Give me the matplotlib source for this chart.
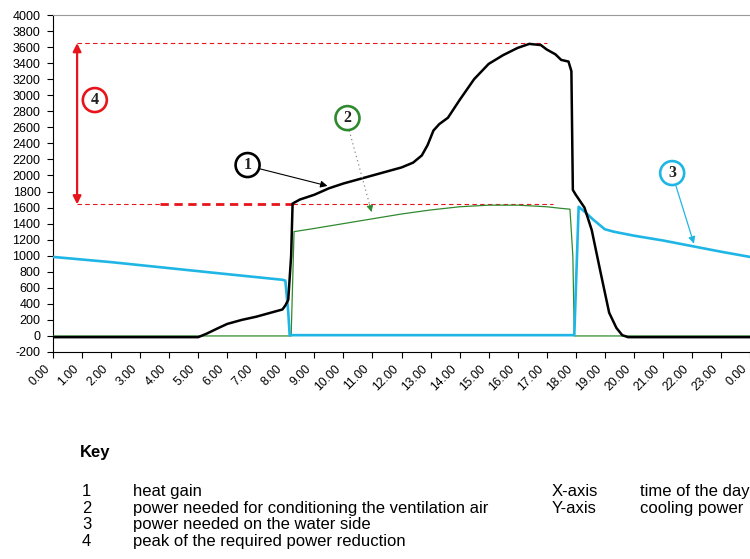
import matplotlib
matplotlib.use("Agg")
import matplotlib.pyplot as plt
import matplotlib.transforms as mtransforms

plt.rcParams['font.family'] = ['Liberation Sans', 'DejaVu Sans']

# ---- data ----
x_tick_labels = [f"{h}.00" for h in range(24)] + ["0.00"]
y_ticks = list(range(-200, 4001, 200))

heat_x = [0, 5.0, 5.3, 5.7, 6.0, 6.5, 7.0, 7.5, 7.9, 8.0, 8.1, 8.2, 8.25, 8.5, 9.0, 9.5, 10.0,
          10.5, 11.0, 11.5, 12.0, 12.4, 12.7, 12.9, 13.1, 13.3, 13.6, 14.0, 14.5, 15.0,
          15.5, 16.0, 16.4, 16.8, 17.0, 17.3, 17.5, 17.75, 17.85, 17.9, 18.0, 18.3,
          18.55, 18.85, 19.15, 19.4, 19.6, 19.8, 24.0]
heat_y = [-15, -15, 30, 100, 150, 200, 240, 290, 330, 380, 450, 1000, 1650, 1700, 1760,
          1840, 1900, 1950, 2000, 2050, 2100, 2160, 2250, 2380, 2560, 2640, 2720, 2940,
          3200, 3390, 3500, 3590, 3640, 3625, 3570, 3510, 3440, 3420, 3300, 1820, 1760,
          1600, 1320, 800, 290, 100, 10, -15, -15]

vent_x = [0, 8.2, 8.3, 9.0, 10.0, 11.0, 12.0, 13.0, 14.0, 15.0, 16.0, 17.0, 17.5, 17.8,
          17.9, 17.95, 24.0]
vent_y = [0, 0, 1300, 1340, 1400, 1460, 1520, 1570, 1610, 1630, 1630, 1610, 1590, 1580,
          1000, 0, 0]

water_x = [0, 2, 4, 6, 7.9, 8.0, 8.1, 8.15, 17.95, 18.1, 18.3, 18.6, 19.0, 19.3, 20.0,
           21.0, 22.0, 23.0, 24.0]
water_y = [985, 920, 845, 770, 700, 690, 300, 10, 10, 1610, 1550, 1450, 1330, 1300, 1250,
           1190, 1120, 1050, 985]

peak_top = 3650
peak_bottom = 1640

key_nums = ["1", "2", "3", "4"]
key_texts = ["heat gain", "power needed for conditioning the ventilation air",
             "power needed on the water side", "peak of the required power reduction"]
axis_names = ["X-axis", "Y-axis"]
axis_texts = ["time of the day", "cooling power"]

# ---- figure ----
W, H = 750, 559
fig = plt.figure(figsize=(7.5, 5.59), dpi=100)
ax = fig.add_axes([53 / W, 1 - 352 / H, 697 / W, 337 / H])

red = '#e8141c'
cyan = '#1fb6e6'
green = '#2f8a2f'

ax.plot(vent_x, vent_y, color=green, lw=0.9, zorder=3)
ax.plot(water_x, water_y, color=cyan, lw=1.9, zorder=4)
ax.plot(heat_x, heat_y, color='black', lw=1.8, zorder=5)

ax.set_xlim(0, 24)
ax.set_ylim(-200, 4000)
ax.set_xticks(range(25))
ax.set_xticklabels([])
# rotated x labels, anchored at their right end just below each tick
lab_tr = ax.get_xaxis_transform() + mtransforms.ScaledTranslation(-5 / 100, -15 / 100,
                                                                   fig.dpi_scale_trans)
for i, lab in enumerate(x_tick_labels):
    ax.text(i, 0, lab, transform=lab_tr, rotation=45, rotation_mode='anchor',
            ha='right', va='center', fontsize=8.8, clip_on=False)
ax.set_yticks(y_ticks)
ax.set_yticklabels([str(v) for v in y_ticks], fontsize=9)
ax.tick_params(axis='both', direction='out', length=4, width=0.8)
ax.tick_params(axis='y', pad=5)
ax.spines['top'].set_color('#999999')
ax.spines['right'].set_visible(False)

# peak lines
ax.plot([0.83, 17.0], [peak_top, peak_top], color=red, lw=0.8, ls=(0, (4, 3)), zorder=2)
ax.plot([0.83, 3.67], [peak_bottom, peak_bottom], color=red, lw=0.8, ls=(0, (4, 3)), zorder=2)
ax.plot([3.67, 8.25], [peak_bottom, peak_bottom], color=red, lw=2.0, ls=(0, (3, 2)), zorder=2)
ax.plot([8.25, 17.2], [peak_bottom, peak_bottom], color=red, lw=0.8, ls=(0, (4, 3)), zorder=2)
ax.annotate('', xy=(0.83, peak_bottom), xytext=(0.83, peak_top),
            arrowprops=dict(arrowstyle='<|-|>', color=red, lw=1.6,
                            mutation_scale=12, shrinkA=0, shrinkB=0))

def circ(x, y, t, col):
    ax.text(x, y, t, ha='center', va='center', fontsize=11.5, fontweight='bold',
            family=['Liberation Serif'], color='#222222',
            bbox=dict(boxstyle='circle,pad=0.25', fc='white', ec=col, lw=1.9), zorder=8)

circ(1.44, 2940, '4', red)
circ(6.7, 2130, '1', 'black')
circ(10.14, 2715, '2', green)
circ(21.32, 2030, '3', cyan)

ax.annotate('', xy=(9.45, 1870), xytext=(7.1, 2085),
            arrowprops=dict(arrowstyle='-|>', color='black', lw=0.8, mutation_scale=10,
                            shrinkA=0, shrinkB=0), zorder=7)
ax.plot([10.2, 10.9], [2560, 1640], color='#8a8a8a', lw=0.9, ls=(0, (1, 2.5)), zorder=7)
ax.annotate('', xy=(10.97, 1545), xytext=(10.9, 1640),
            arrowprops=dict(arrowstyle='-|>', color=green, lw=0.6, mutation_scale=10,
                            shrinkA=0, shrinkB=0), zorder=7)
ax.annotate('', xy=(22.07, 1150), xytext=(21.45, 1870),
            arrowprops=dict(arrowstyle='-|>', color=cyan, lw=0.9, mutation_scale=10,
                            shrinkA=0, shrinkB=0), zorder=7)

# ---- key ----
fs = 12
fig.text(80 / W, 1 - 457 / H, "Key", fontsize=fs, fontweight='bold', va='baseline')
ys = [496, 513, 529, 546]
for n, t, yy in zip(key_nums, key_texts, ys):
    fig.text(82 / W, 1 - yy / H, n, fontsize=fs, va='baseline')
    fig.text(133 / W, 1 - yy / H, t, fontsize=fs, va='baseline')
for n, t, yy in zip(axis_names, axis_texts, ys[:2]):
    fig.text(552 / W, 1 - yy / H, n, fontsize=fs, va='baseline')
    fig.text(640 / W, 1 - yy / H, t, fontsize=fs, va='baseline')

fig.savefig("out.png", dpi=100)
